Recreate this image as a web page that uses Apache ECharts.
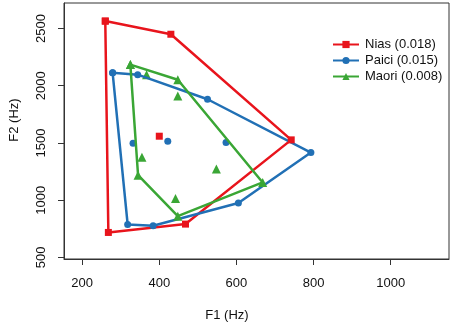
<!DOCTYPE html>
<html>
<head>
<meta charset="utf-8">
<script src="https://cdn.jsdelivr.net/npm/echarts@6/dist/echarts.min.js"></script>
<style>
  html, body { margin: 0; padding: 0; background: #fff; }
  #chart { width: 454px; height: 326px; }
</style>
</head>
<body>
<div id="chart"></div>
<script>
// hull vertices [F1, F2], in drawing order
var niasHull = [[260, 2565], [430, 2450], [742, 1527], [468, 791], [268, 718]];
var paiciHull = [[279, 2114], [344, 2097], [525, 1882], [793, 1416], [605, 975], [384, 777], [318, 788]];
var maoriHull = [[325, 2185], [448, 2052], [668, 1155], [448, 860], [345, 1218]];
// points inside the hulls
var niasInner = [[400, 1559]];
var paiciInner = [[332, 1498], [422, 1516], [573, 1503]];
var maoriInner = [[367, 2095], [448, 1910], [355, 1376], [548, 1273], [442, 1014]];

var names = ['Nias (0.018)', 'Paici (0.015)', 'Maori (0.008)'];
var colors = ['#e8141c', '#2170b5', '#3aa635'];
var symbols = ['rect', 'circle', 'triangle'];
var symbolSizes = [7, 7, 9];

var xTicks = [200, 400, 600, 800, 1000];
var yTicks = [500, 1000, 1500, 2000, 2500];

var font = '"Liberation Sans", Arial, sans-serif';

function closed(pts) {
  return pts.concat([pts[0]]);
}

var hulls = [niasHull, paiciHull, maoriHull];
var inners = [niasInner, paiciInner, maoriInner];
var series = [];
for (var i = 0; i < 3; i++) {
  series.push({
    name: names[i],
    type: 'line',
    data: closed(hulls[i]),
    symbol: symbols[i],
    symbolSize: symbolSizes[i],
    showAllSymbol: true,
    lineStyle: { color: colors[i], width: 2.5 },
    itemStyle: { color: colors[i] }
  });
  series.push({
    name: names[i],
    type: 'scatter',
    data: inners[i],
    symbol: symbols[i],
    symbolSize: symbolSizes[i],
    itemStyle: { color: colors[i], opacity: 1 }
  });
}

var chart = echarts.init(document.getElementById('chart'));
chart.setOption({
  animation: false,
  textStyle: { fontFamily: font },
  grid: {
    left: 64, right: 5, top: 3, bottom: 67,
    show: true, borderColor: '#333', borderWidth: 1
  },
  legend: {
    orient: 'vertical',
    left: 327, top: 33,
    data: names,
    itemWidth: 26, itemHeight: 9, itemGap: 3,
    lineStyle: { width: 2 },
    textStyle: { fontSize: 13, color: '#111', fontFamily: font, padding: [0, 0, 0, 1] }
  },
  xAxis: {
    type: 'value',
    min: 153, max: 1151,
    splitLine: { show: false },
    axisLine: { show: true, lineStyle: { color: '#333' } },
    axisTick: { show: true, length: 6, customValues: xTicks, lineStyle: { color: '#333' } },
    axisLabel: {
      customValues: xTicks, fontSize: 13, color: '#111', margin: 18, fontFamily: font,
      formatter: function (v) { return String(v); }
    }
  },
  yAxis: {
    type: 'value',
    min: 486, max: 2723,
    splitLine: { show: false },
    axisLine: { show: true, lineStyle: { color: '#333' } },
    axisTick: { show: true, length: 6, customValues: yTicks, lineStyle: { color: '#333' } },
    axisLabel: {
      customValues: yTicks, rotate: 90, fontSize: 13, color: '#111', margin: 16, fontFamily: font,
      formatter: function (v) { return String(v); }
    }
  },
  graphic: [
    {
      type: 'text', left: 'center', top: 309,
      style: { text: 'F1 (Hz)', fill: '#111', font: '13px ' + font }
    },
    {
      type: 'text', x: 14, y: 120, rotation: Math.PI / 2,
      style: { text: 'F2 (Hz)', fill: '#111', font: '13px ' + font, align: 'center', verticalAlign: 'middle' }
    }
  ],
  series: series
});
</script>
</body>
</html>
